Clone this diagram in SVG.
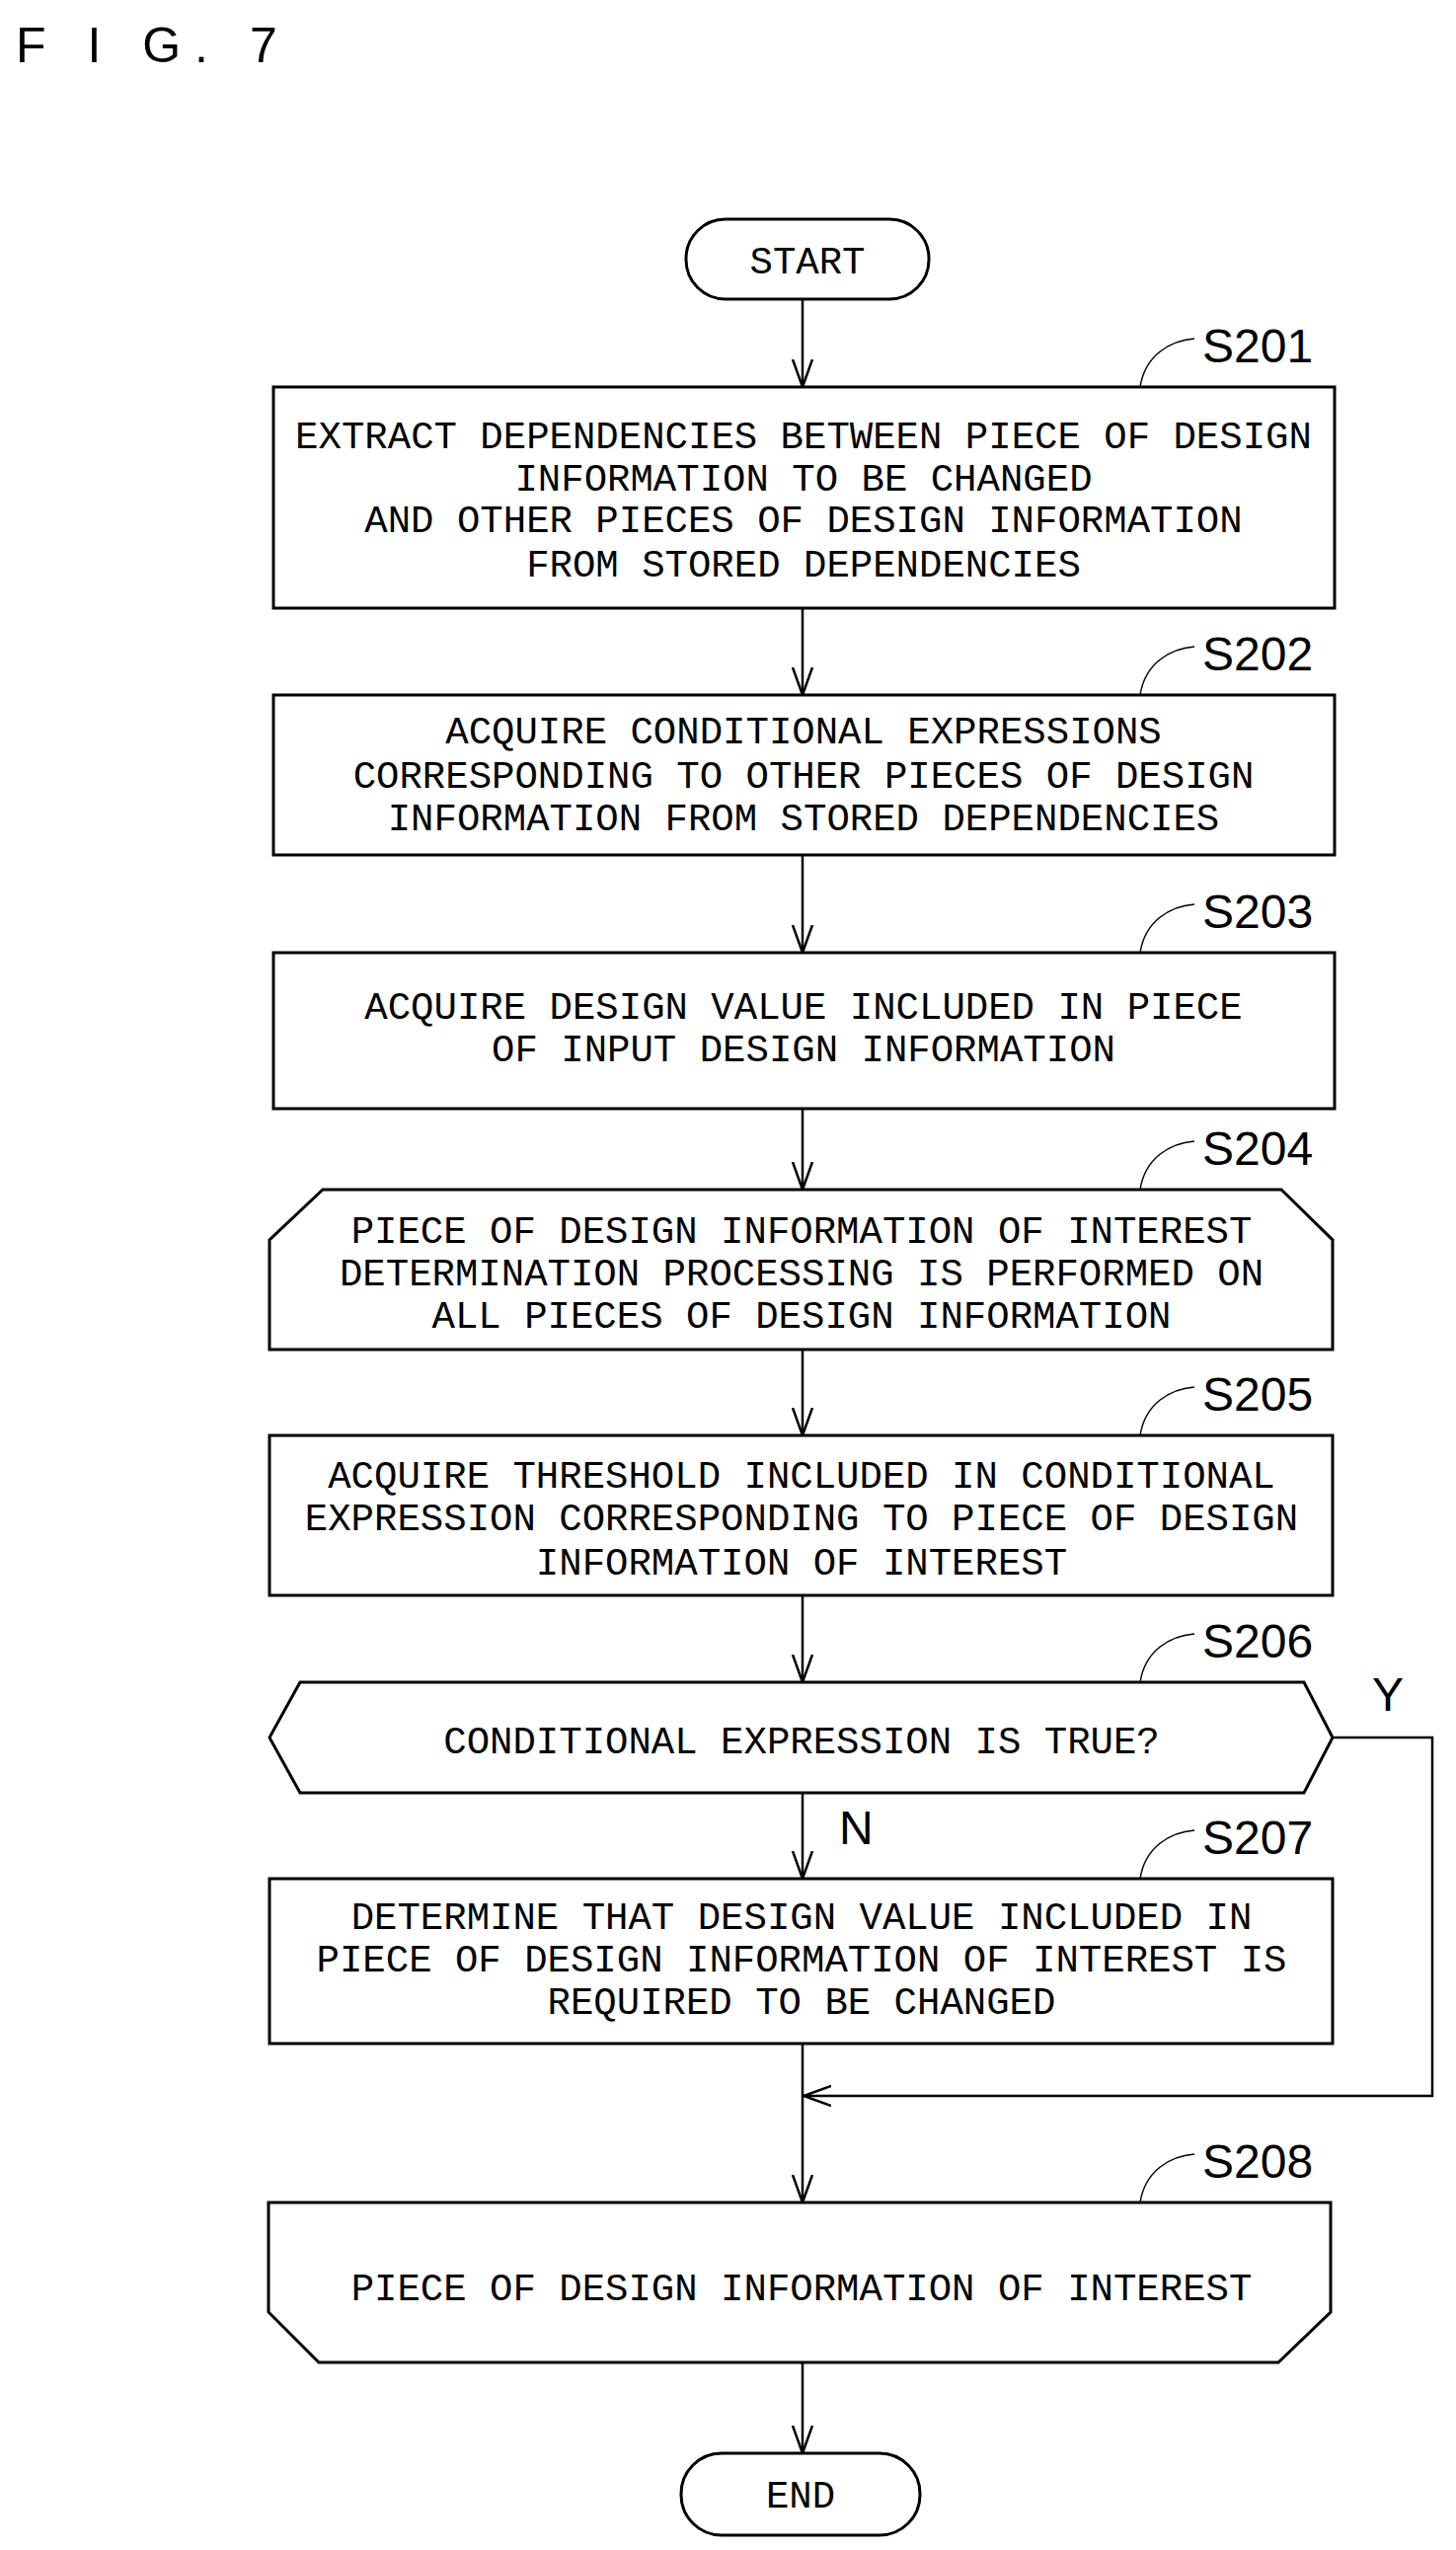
<svg xmlns="http://www.w3.org/2000/svg" width="1475" height="2583" viewBox="0 0 1475 2583">
<style>
.s{fill:#fff;stroke:#000;stroke-width:3}
.t{font-family:"Liberation Mono",monospace;font-size:39px;text-anchor:middle;fill:#000}
.l{font-family:"Liberation Sans",sans-serif;font-size:48px;fill:#000}
.c{fill:none;stroke:#000;stroke-width:2.5}
.lead{fill:none;stroke:#000;stroke-width:1.5}
</style>
<defs>
<marker id="a" markerWidth="30" markerHeight="24" refX="28" refY="12" orient="auto" markerUnits="userSpaceOnUse" viewBox="0 0 30 24">
<polyline points="0,2 28,12 0,22" fill="none" stroke="#000" stroke-width="2.5"/>
</marker>
</defs>
<rect width="1475" height="2583" fill="#fff"/>
<text x="16" y="63" font-family="Liberation Sans,sans-serif" font-size="50" letter-spacing="14">F I G. 7</text>
<g id="connectors">
<line class="c" x1="813" y1="303" x2="813" y2="392" marker-end="url(#a)"/>
<line class="c" x1="813" y1="616" x2="813" y2="704" marker-end="url(#a)"/>
<line class="c" x1="813" y1="866" x2="813" y2="965" marker-end="url(#a)"/>
<line class="c" x1="813" y1="1123" x2="813" y2="1205" marker-end="url(#a)"/>
<line class="c" x1="813" y1="1367" x2="813" y2="1454" marker-end="url(#a)"/>
<line class="c" x1="813" y1="1616" x2="813" y2="1704" marker-end="url(#a)"/>
<line class="c" x1="813" y1="1816" x2="813" y2="1903" marker-end="url(#a)"/>
<line class="c" x1="813" y1="2070" x2="813" y2="2231" marker-end="url(#a)"/>
<polyline class="c" points="1350,1760 1451,1760 1451,2123 814,2123" marker-end="url(#a)"/>
<line class="c" x1="813" y1="2393" x2="813" y2="2485" marker-end="url(#a)"/>
<text class="l" x="1390" y="1733">Y</text>
<text class="l" x="850" y="1868">N</text>
</g>
<g id="start"><rect class="s" x="695" y="222" width="246" height="81" rx="40"/><text class="t" x="818" y="277">START</text></g>
<g id="s201">
<rect class="s" x="277" y="392" width="1075" height="224"/>
<text class="t" x="814" y="454">EXTRACT DEPENDENCIES BETWEEN PIECE OF DESIGN</text>
<text class="t" x="814" y="497">INFORMATION TO BE CHANGED</text>
<text class="t" x="814" y="539">AND OTHER PIECES OF DESIGN INFORMATION</text>
<text class="t" x="814" y="584">FROM STORED DEPENDENCIES</text>
<path class="lead" d="M1155,392 C1160,360 1185,345 1210,343"/><text class="l" x="1218" y="367">S201</text>
</g>
<g id="s202">
<rect class="s" x="277" y="704" width="1075" height="162"/>
<text class="t" x="814" y="753">ACQUIRE CONDITIONAL EXPRESSIONS</text>
<text class="t" x="814" y="798">CORRESPONDING TO OTHER PIECES OF DESIGN</text>
<text class="t" x="814" y="841">INFORMATION FROM STORED DEPENDENCIES</text>
<path class="lead" d="M1155,704 C1160,672 1185,657 1210,655"/><text class="l" x="1218" y="679">S202</text>
</g>
<g id="s203">
<rect class="s" x="277" y="965" width="1075" height="158"/>
<text class="t" x="814" y="1032">ACQUIRE DESIGN VALUE INCLUDED IN PIECE</text>
<text class="t" x="814" y="1075">OF INPUT DESIGN INFORMATION</text>
<path class="lead" d="M1155,965 C1160,933 1185,918 1210,916"/><text class="l" x="1218" y="940">S203</text>
</g>
<g id="s204">
<polygon class="s" points="327,1205 1298,1205 1350,1256 1350,1367 273,1367 273,1256"/>
<text class="t" x="812" y="1259">PIECE OF DESIGN INFORMATION OF INTEREST</text>
<text class="t" x="812" y="1302">DETERMINATION PROCESSING IS PERFORMED ON</text>
<text class="t" x="812" y="1345">ALL PIECES OF DESIGN INFORMATION</text>
<path class="lead" d="M1155,1205 C1160,1173 1185,1158 1210,1156"/><text class="l" x="1218" y="1180">S204</text>
</g>
<g id="s205">
<rect class="s" x="273" y="1454" width="1077" height="162"/>
<text class="t" x="812" y="1507">ACQUIRE THRESHOLD INCLUDED IN CONDITIONAL</text>
<text class="t" x="812" y="1550">EXPRESSION CORRESPONDING TO PIECE OF DESIGN</text>
<text class="t" x="812" y="1595">INFORMATION OF INTEREST</text>
<path class="lead" d="M1155,1454 C1160,1422 1185,1407 1210,1405"/><text class="l" x="1218" y="1429">S205</text>
</g>
<g id="s206">
<polygon class="s" points="304,1704 1321,1704 1350,1760 1321,1816 304,1816 273,1760"/>
<text class="t" x="812" y="1776">CONDITIONAL EXPRESSION IS TRUE?</text>
<path class="lead" d="M1155,1704 C1160,1672 1185,1657 1210,1655"/><text class="l" x="1218" y="1679">S206</text>
</g>
<g id="s207">
<rect class="s" x="273" y="1903" width="1077" height="167"/>
<text class="t" x="812" y="1954">DETERMINE THAT DESIGN VALUE INCLUDED IN</text>
<text class="t" x="812" y="1997">PIECE OF DESIGN INFORMATION OF INTEREST IS</text>
<text class="t" x="812" y="2040">REQUIRED TO BE CHANGED</text>
<path class="lead" d="M1155,1903 C1160,1871 1185,1856 1210,1854"/><text class="l" x="1218" y="1878">S207</text>
</g>
<g id="s208">
<polygon class="s" points="272,2231 1348,2231 1348,2342 1295,2393 323,2393 272,2342"/>
<text class="t" x="812" y="2330">PIECE OF DESIGN INFORMATION OF INTEREST</text>
<path class="lead" d="M1155,2231 C1160,2199 1185,2184 1210,2182"/><text class="l" x="1218" y="2206">S208</text>
</g>
<g id="end"><rect class="s" x="690" y="2485" width="242" height="83" rx="41"/><text class="t" x="811" y="2540">END</text></g>
</svg>
